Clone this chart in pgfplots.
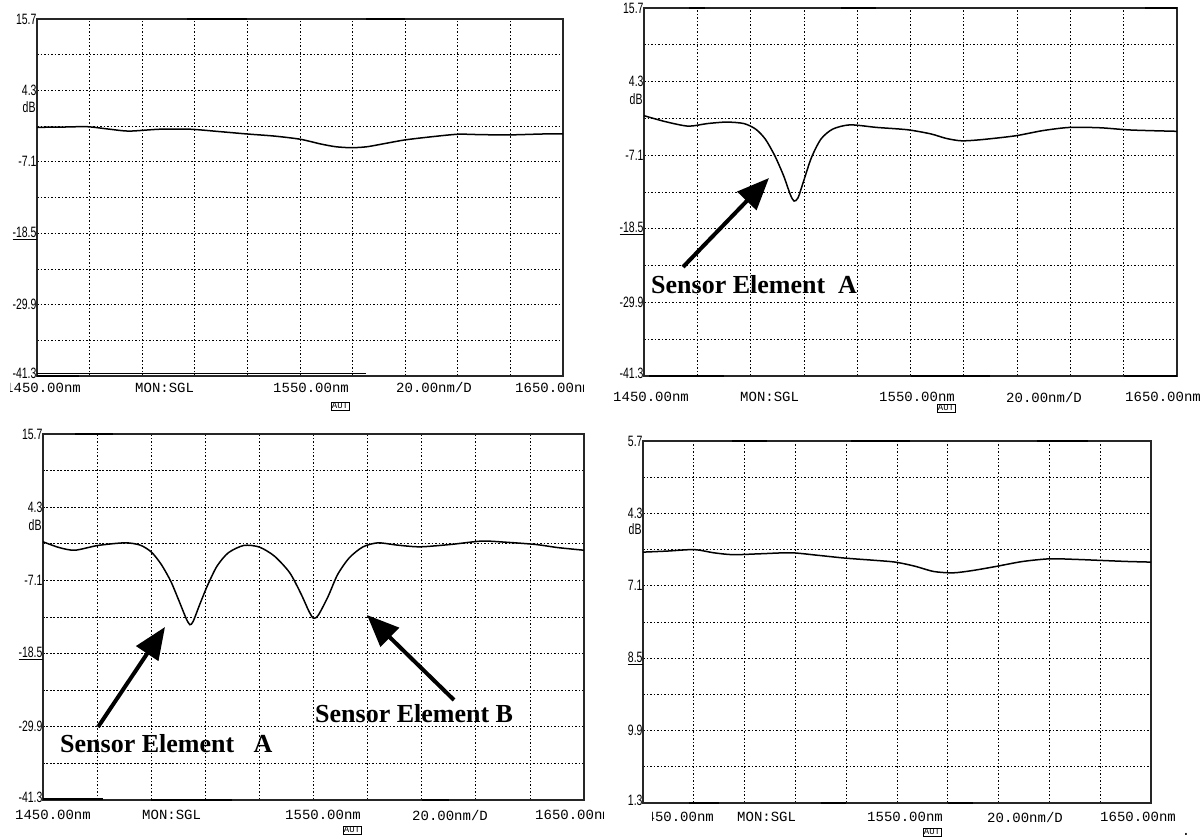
\documentclass[border=0pt]{standalone}
\usepackage{fontspec}
\usepackage{pgfplots}
\pgfplotsset{compat=1.18}
\usetikzlibrary{arrows.meta}

\newfontfamily\instfont{Liberation Mono}
\newfontfamily\dbfont{Liberation Sans}
\newfontfamily\notefont{Liberation Serif}

\newcommand{\rowfont}{\instfont\fontsize{14}{14}\selectfont}
\newcommand{\notetext}{\notefont\bfseries\fontsize{26}{26}\selectfont}
\newcommand{\scalelblfont}{\dbfont\fontsize{15}{15}\selectfont}
% top and bottom scale values sit just inside the frame
\newcommand{\toplbl}[1]{\raisebox{-3pt}{#1}}
\newcommand{\botlbl}[1]{\raisebox{5pt}{#1}}

\tikzset{edge/.style={black, line width=1.8pt},
         trace/.style={black, line width=1.5pt, smooth, tension=0.45, mark=none}}

% common look of the spectrum analyser screen
\pgfplotsset{
  osa/.style={
    scale only axis, anchor=south west, clip=false,
    xmin=1450, xmax=1650, ymin=-41.3, ymax=15.7,
    xtick={1450,1470,1490,1510,1530,1550,1570,1590,1610,1630,1650},
    xticklabels={,,,,,,,,,,},
    ytick={15.7,10,4.3,-1.4,-7.1,-12.8,-18.5,-24.2,-29.9,-35.6,-41.3},
    grid=major,
    major grid style={black, line width=0.7pt, dash pattern=on 1.6pt off 1.9pt},
    major tick length=0pt,
    axis line style={black!85, line width=1.1pt},
    yticklabel style={font=\scalelblfont, xscale=0.7, inner xsep=0.5pt, text=black},
  },
}

\begin{document}
\begin{tikzpicture}[x=1pt,y=1pt]
\useasboundingbox (0,0) rectangle (1203,836);

% ---------------- upper left: reference trace ----------------
\begin{axis}[osa, at={(37pt,460pt)}, width=526pt, height=357pt,
  yticklabels={\toplbl{15.7},,4.3,,-7.1,,\underline{-18.5},,-29.9,,\botlbl{-41.3}}]
\addplot[trace] coordinates {
 (1450,-1.6) (1460.2,-1.55) (1469.2,-1.5) (1477.7,-1.9) (1485,-2.2) (1496.6,-1.9)
 (1508.3,-1.9) (1520,-2.3) (1529.9,-2.66) (1540.4,-3.0) (1550.1,-3.5) (1557.9,-4.26)
 (1563.7,-4.7) (1569.5,-4.85) (1575.4,-4.7) (1582.7,-4.15) (1590,-3.6) (1600.1,-3.1)
 (1610.1,-2.7) (1619.1,-2.77) (1630.2,-2.8) (1642.4,-2.66) (1650,-2.66)};
\draw[black, line width=0.9pt] (axis cs:1450,-40.9) -- (axis cs:1575,-40.9);
\draw[edge] (axis cs:1450,-41.3) -- (axis cs:1466,-41.3);
\draw[edge] (axis cs:1507,15.7) -- (axis cs:1530,15.7);
\draw[edge] (axis cs:1575,15.7) -- (axis cs:1590,15.7);
\end{axis}

% ---------------- upper right: element A ----------------
\begin{axis}[osa, at={(644pt,460pt)}, width=533pt, height=368pt,
  yticklabels={\toplbl{15.7},,4.3,,-7.1,,\underline{-18.5},,-29.9,,\botlbl{-41.3}}]
\addplot[trace] coordinates {
 (1450,-0.98) (1458,-1.9) (1466.6,-2.6) (1473.8,-2.2) (1481,-1.97) (1487.5,-2.2)
 (1491.9,-3.06) (1495.5,-4.6) (1499.1,-7.2) (1502.4,-10.3) (1504.9,-13.2) (1506.3,-14.2)
 (1507.8,-13.7) (1509.9,-11.1) (1512.8,-7.5) (1516.4,-4.6) (1520.8,-3.06) (1527.3,-2.4)
 (1537.4,-2.8) (1548.9,-3.16) (1557.6,-3.8) (1563.4,-4.5) (1569.1,-4.87) (1576.4,-4.7)
 (1589.3,-4.1) (1599.5,-3.3) (1609.6,-2.8) (1621.1,-2.85) (1632.7,-3.2) (1650,-3.4)};
\draw[edge] (axis cs:1467,15.7) -- (axis cs:1473,15.7);
\draw[edge] (axis cs:1524,15.7) -- (axis cs:1537,15.7);
\draw[edge] (axis cs:1638,15.7) -- (axis cs:1650,15.7);
\draw[edge] (axis cs:1452,-41.3) -- (axis cs:1480,-41.3);
\draw[edge] (axis cs:1550,-41.3) -- (axis cs:1580,-41.3);
\draw[edge] (axis cs:1630,-41.3) -- (axis cs:1650,-41.3);
\end{axis}

% ---------------- lower left: elements A and B ----------------
\begin{axis}[osa, at={(43pt,36pt)}, width=541pt, height=366pt,
  yticklabels={\toplbl{15.7},,4.3,,-7.1,,\underline{-18.5},,-29.9,,\botlbl{-41.3}}]
\addplot[trace] coordinates {
 (1450,-1.09) (1456.1,-2.0) (1461.8,-2.4) (1470.3,-1.66) (1480.2,-1.25) (1485.9,-1.6)
 (1490.1,-2.7) (1493.7,-4.6) (1497.2,-7.2) (1500.1,-10.1) (1502.9,-13.0) (1504.3,-14.0)
 (1505.5,-13.5) (1507.9,-10.9) (1510.7,-8.0) (1514.3,-4.9) (1518.5,-2.8) (1524.2,-1.66)
 (1529.9,-1.9) (1535.5,-3.3) (1541.2,-5.9) (1545.5,-9.3) (1548.3,-11.9) (1550,-13.0)
 (1551.8,-12.5) (1555.4,-9.6) (1558.9,-6.2) (1563.2,-3.6) (1568.2,-1.9) (1573.8,-1.25)
 (1580.9,-1.6) (1589.4,-1.87) (1600.8,-1.5) (1612.1,-0.98) (1620.6,-1.14) (1632,-1.5)
 (1640.5,-2.0) (1650,-2.4)};
\draw[edge] (axis cs:1462,15.7) -- (axis cs:1476,15.7);
\draw[edge] (axis cs:1450,-41.1) -- (axis cs:1472,-41.1);
\draw[edge] (axis cs:1490,-41.3) -- (axis cs:1520,-41.3);
\draw[edge] (axis cs:1590,-41.3) -- (axis cs:1600,-41.3);
\end{axis}

% ---------------- lower right: reference trace, second scale ----------------
\begin{axis}[osa, at={(643pt,33pt)}, width=508pt, height=362pt,
  yticklabels={\toplbl{5.7},,4.3,,7.1,,\underline{8.5},,9.9,,\botlbl{1.3}}]
\addplot[trace] coordinates {
 (1450,-1.8) (1459.6,-1.63) (1470.2,-1.4) (1477.8,-1.9) (1485.4,-2.2) (1496.1,-2.06)
 (1508.3,-1.9) (1518.9,-2.3) (1529.5,-2.74) (1540.2,-3.06) (1549.3,-3.37) (1556.9,-4.0)
 (1564.5,-4.85) (1572.1,-5.06) (1579.7,-4.7) (1588.9,-4.06) (1599.5,-3.27) (1610.2,-2.85)
 (1620.8,-2.95) (1630,-3.1) (1640.6,-3.27) (1650,-3.37)};
\draw[edge] (axis cs:1485,15.7) -- (axis cs:1499,15.7);
\draw[edge] (axis cs:1532,15.7) -- (axis cs:1555,15.7);
\draw[edge] (axis cs:1605,15.7) -- (axis cs:1625,15.7);
\draw[edge] (axis cs:1468,-41.3) -- (axis cs:1480,-41.3);
\draw[edge] (axis cs:1520,-41.3) -- (axis cs:1530,-41.3);
\draw[edge] (axis cs:1570,-41.3) -- (axis cs:1580,-41.3);
\end{axis}

% ---------------- unit labels ----------------
\tikzset{dbl/.style={font=\scalelblfont, xscale=0.7, anchor=east, inner sep=0.5pt}}
\node[dbl] at (36,729) {dB};
\node[dbl] at (643,737) {dB};
\node[dbl] at (42,311) {dB};
\node[dbl] at (642,307) {dB};

% ---------------- instrument status rows ----------------
\tikzset{row/.style={font=\rowfont, anchor=west, inner sep=0pt},
         aut/.style={font=\instfont\fontsize{9}{9}\selectfont, draw, line width=0.6pt, inner sep=1pt}}
% upper left
\begin{scope}\clip (10,400) rectangle (583,470);
\node[row] at (5,448) {1450.00nm};
\node[row] at (515,448) {1650.00nm};
\end{scope}
\node[row] at (135,448) {MON:SGL};
\node[row] at (273,448) {1550.00nm};
\node[row] at (396,448) {20.00nm/D};
\node[aut] at (340,430) {AUT};
% upper right
\node[row] at (613,439) {1450.00nm};
\node[row] at (740,439) {MON:SGL};
\node[row] at (879,439) {1550.00nm};
\node[row] at (1006,439) {20.00nm/D};
\node[row] at (1125,439) {1650.00nm};
\node[aut] at (946,428) {AUT};
% lower left
\node[row] at (15,21) {1450.00nm};
\node[row] at (142,21) {MON:SGL};
\node[row] at (285,21) {1550.00nm};
\node[row] at (412,21) {20.00nm/D};
\begin{scope}\clip (500,0) rectangle (603,40);
\node[row] at (535,21) {1650.00nm};
\end{scope}
\node[aut] at (352,6) {AUT};
% lower right
\begin{scope}\clip (652,0) rectangle (730,40);
\node[row] at (638,19) {1450.00nm};
\end{scope}
\node[row] at (737,19) {MON:SGL};
\node[row] at (867,19) {1550.00nm};
\node[row] at (987,19) {20.00nm/D};
\node[row] at (1100,19) {1650.00nm};
\node[font=\rowfont, inner sep=0pt, anchor=base] at (1186,1) {.};
\node[aut] at (932,4) {AUT};

% ---------------- sensor annotations ----------------
\tikzset{pointer/.style={line width=4pt, -{Triangle[length=32pt, width=26pt]}}}
\draw[pointer] (683,569) -- (769,658);
\node[font=\notetext, anchor=base west, inner sep=0pt] at (651,542) {Sensor Element\ \ A};
\draw[pointer] (98,109) -- (165,209);
\node[font=\notetext, anchor=base west, inner sep=0pt] at (60,83) {Sensor Element\ \ \ A};
\draw[pointer] (454,136) -- (367,221);
\node[font=\notetext, anchor=base west, inner sep=0pt] at (315,113) {Sensor Element B};
\end{tikzpicture}
\end{document}
